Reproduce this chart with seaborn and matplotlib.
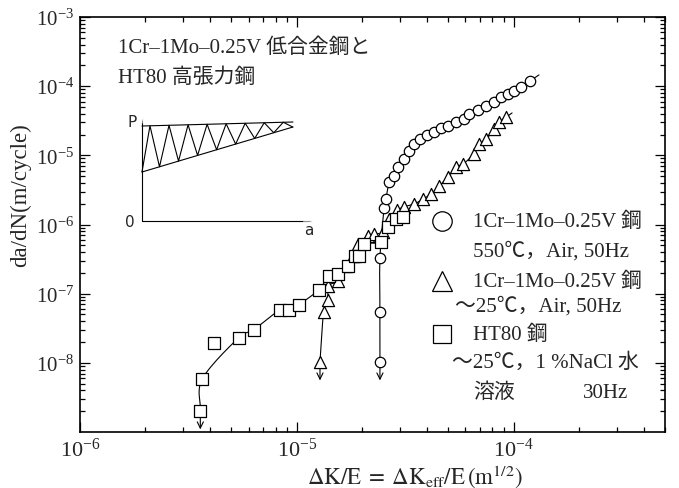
import numpy as np
import pandas as pd
import matplotlib
matplotlib.use("Agg")
import matplotlib.pyplot as plt
import seaborn as sns

# ---- data: crack growth rate da/dN (m/cycle) vs. normalised range dK/E (m^1/2) ----
# 1Cr-1Mo-0.25V steel, 550 C, air, 50 Hz  (circles)
hot_dk = [2.42e-5, 2.42e-5, 2.42e-5, 2.53e-5, 2.58e-5, 2.67e-5, 2.81e-5, 2.93e-5,
          3.13e-5, 3.30e-5, 3.48e-5, 3.71e-5, 4.00e-5, 4.31e-5, 4.64e-5, 5.00e-5,
          5.45e-5, 5.93e-5, 6.26e-5, 6.89e-5, 7.50e-5, 8.17e-5, 8.80e-5, 9.48e-5,
          1.01e-4, 1.08e-4, 1.19e-4]
hot_rate = [1.03e-8, 5.46e-8, 3.29e-7, 1.74e-6, 2.34e-6, 4.13e-6, 5.04e-6, 6.80e-6,
            8.87e-6, 1.16e-5, 1.46e-5, 1.73e-5, 1.97e-5, 2.18e-5, 2.49e-5, 2.66e-5,
            3.04e-5, 3.36e-5, 3.96e-5, 4.53e-5, 5.17e-5, 5.91e-5, 6.98e-5, 7.71e-5,
            8.52e-5, 9.74e-5, 1.19e-4]

# 1Cr-1Mo-0.25V steel, ~25 C, air, 50 Hz  (triangles)
room_dk = [1.28e-5, 1.33e-5, 1.39e-5, 1.40e-5, 1.55e-5, 1.69e-5, 1.82e-5, 1.92e-5,
           2.13e-5, 2.27e-5, 2.50e-5, 2.67e-5, 2.90e-5, 3.13e-5, 3.48e-5, 3.83e-5,
           4.17e-5, 4.54e-5, 5.00e-5, 5.45e-5, 5.87e-5, 6.55e-5, 6.96e-5, 7.50e-5,
           8.17e-5, 8.61e-5, 9.28e-5]
room_rate = [1.03e-8, 5.46e-8, 8.14e-8, 1.30e-7, 1.53e-7, 2.52e-7, 3.52e-7, 5.24e-7,
             6.84e-7, 7.31e-7, 7.82e-7, 1.21e-6, 1.60e-6, 1.80e-6, 1.98e-6, 2.34e-6,
             2.77e-6, 3.61e-6, 4.88e-6, 6.80e-6, 7.51e-6, 1.05e-5, 1.46e-5, 1.73e-5,
             2.41e-5, 3.04e-5, 3.59e-5]

# HT80 steel, ~25 C, 1 % NaCl solution, 30 Hz  (squares)
ht80_dk = [3.59e-6, 3.67e-6, 4.17e-6, 5.39e-6, 6.32e-6, 8.34e-6, 9.18e-6, 1.02e-5,
           1.26e-5, 1.41e-5, 1.55e-5, 1.72e-5, 1.86e-5, 1.94e-5, 2.04e-5, 2.45e-5,
           2.64e-5, 2.87e-5, 3.10e-5]
ht80_rate = [2.02e-9, 5.87e-9, 1.95e-8, 2.30e-8, 3.00e-8, 5.83e-8, 5.83e-8, 6.89e-8,
             1.13e-7, 1.81e-7, 1.93e-7, 2.52e-7, 3.52e-7, 3.52e-7, 5.24e-7, 5.61e-7,
             9.23e-7, 1.21e-6, 1.29e-6]
ht80_off_curve = [2]          # scattered point the trend line does not pass through

x_ticks = [1e-6, 1e-5, 1e-4]
y_ticks = [1e-8, 1e-7, 1e-6, 1e-5, 1e-4, 1e-3]

hot = pd.DataFrame({"dk": hot_dk, "rate": hot_rate})
room = pd.DataFrame({"dk": room_dk, "rate": room_rate})
ht80 = pd.DataFrame({"dk": ht80_dk, "rate": ht80_rate})

# ---- style ----
sns.set_style("ticks")
plt.rcParams["font.family"] = ["Liberation Serif", "Noto Sans CJK JP", "DejaVu Sans"]
plt.rcParams["mathtext.fontset"] = "stix"
TXT = ["Liberation Serif", "Noto Sans CJK JP", "DejaVu Sans"]


def smooth_curve(df, tail=0.0, aspect=0.32, n=14):
    """Catmull-Rom curve through the points in log-log space (optional short tail)."""
    lx = np.log10(df["dk"].to_numpy())
    ly = np.log10(df["rate"].to_numpy()) * aspect
    P = np.column_stack([lx, ly])
    if tail > 0:
        P = np.vstack([P, P[-1] + tail * (P[-1] - P[-2])])
    P = np.vstack([2 * P[0] - P[1], P, 2 * P[-1] - P[-2]])
    pieces = []
    t = np.linspace(0, 1, n, endpoint=False)[:, None]
    for i in range(1, len(P) - 2):
        p0, p1, p2, p3 = P[i - 1], P[i], P[i + 1], P[i + 2]
        pieces.append(0.5 * (2 * p1 + (-p0 + p2) * t
                             + (2 * p0 - 5 * p1 + 4 * p2 - p3) * t ** 2
                             + (-p0 + 3 * p1 - 3 * p2 + p3) * t ** 3))
    pieces.append(P[-2][None])
    C = np.vstack(pieces)
    return pd.DataFrame({"dk": 10 ** C[:, 0], "rate": 10 ** (C[:, 1] / aspect),
                         "order": np.arange(len(C))})


fig = plt.figure(figsize=(6.79, 4.89), dpi=100)
ax = fig.add_axes([0.1178, 0.1145, 0.8616, 0.8487])
ax.set_xscale("log")
ax.set_yscale("log")

line_kw = dict(color="black", lw=0.8, sort=False, estimator=None, legend=False, zorder=2)
sns.lineplot(data=smooth_curve(hot, tail=1.0), x="dk", y="rate", ax=ax, **line_kw)
sns.lineplot(data=smooth_curve(room, tail=0.8), x="dk", y="rate", ax=ax, **line_kw)
sns.lineplot(data=smooth_curve(ht80.drop(index=ht80_off_curve)), x="dk", y="rate",
             ax=ax, **line_kw)

# run-out arrows below the lowest point of each series
for df in (hot, room, ht80):
    x0, y0 = df["dk"].iloc[0], df["rate"].iloc[0]
    ax.annotate("", xy=(x0, y0 / 1.85), xytext=(x0, y0),
                arrowprops=dict(arrowstyle="->,head_length=0.45,head_width=0.22",
                                lw=0.8, color="black", shrinkA=0, shrinkB=0),
                zorder=2)

mk = dict(facecolor="white", edgecolor="black", linewidth=0.9, legend=False, zorder=3)
sns.scatterplot(data=hot, x="dk", y="rate", marker="o", s=56, ax=ax, **mk)
sns.scatterplot(data=room, x="dk", y="rate", marker="^", s=76, ax=ax, **mk)
sns.scatterplot(data=ht80, x="dk", y="rate", marker="s", s=64, ax=ax, **mk)

# ---- axes ----
ax.set_xlim(1e-6, 5e-4)
ax.set_ylim(1e-9, 1e-3)
ax.set_xticks(x_ticks)
ax.set_yticks(y_ticks)
ax.xaxis.set_minor_locator(matplotlib.ticker.LogLocator(base=10, subs=np.arange(2, 10)))
ax.yaxis.set_minor_locator(matplotlib.ticker.LogLocator(base=10, subs=np.arange(2, 10)))
ax.xaxis.set_minor_formatter(matplotlib.ticker.NullFormatter())
ax.yaxis.set_minor_formatter(matplotlib.ticker.NullFormatter())
ax.tick_params(which="both", direction="in", top=True, right=True, width=0.9, color="black")
ax.tick_params(which="major", length=7)
ax.tick_params(which="minor", length=3.5)
ax.tick_params(axis="x", labelsize=16, pad=4)
ax.tick_params(axis="y", labelsize=15, pad=4)
for sp in ax.spines.values():
    sp.set_linewidth(1.2)
    sp.set_color("black")

ax.set_xlabel(r"$\Delta\mathrm{K/E}\;=\;\Delta\mathrm{K}_{\mathrm{eff}}/\mathrm{E}\,(\mathrm{m}^{1/2})$",
              fontsize=16.5)
ax.xaxis.set_label_coords(0.573, -0.074)
ax.set_ylabel("da/dN(m/cycle)", fontsize=16.5, family=TXT)
ax.yaxis.set_label_coords(-0.084, 0.573)

# ---- heading ----
ax.text(0.065, 0.9277, "1Cr–1Mo–0.25V 低合金鋼と", transform=ax.transAxes,
        ha="left", va="center", fontsize=15, family=TXT)
ax.text(0.065, 0.8554, "HT80 高張力鋼", transform=ax.transAxes,
        ha="left", va="center", fontsize=15, family=TXT)

# ---- key ----
key_x = 0.6188
for sym, ky in (("o", 0.5084), ("^", 0.3639), ("s", 0.2361)):
    ax.plot([key_x], [ky], marker=sym, ms=14 if sym != "s" else 12.5, mfc="white",
            mec="black", mew=0.9, transform=ax.transAxes, clip_on=False, ls="none")
key_lines = [
    (0.6718, 0.5084, "1Cr–1Mo–0.25V 鋼"),
    (0.6718, 0.4361, "550℃，Air, 50Hz"),
    (0.6718, 0.3639, "1Cr–1Mo–0.25V 鋼"),
    (0.6410, 0.3036, "～25℃，Air, 50Hz"),
    (0.6718, 0.2361, "HT80 鋼"),
    (0.6359, 0.1687, "～25℃，1 %NaCl 水"),
    (0.6718, 0.0964, "溶液"),
    (0.8598, 0.0964, "30Hz"),
]
for kx, ky, s in key_lines:
    ax.text(kx, ky, s, transform=ax.transAxes, ha="left", va="center",
            fontsize=15, family=TXT)

# ---- schematic of the load history P vs crack length a ----
ins = fig.add_axes([0.2091, 0.546, 0.2504, 0.2045])
ins.set_axis_off()
ins.set_xlim(0, 1)
ins.set_ylim(0, 1)
ins.patch.set_alpha(0)
u_end = 0.888
upper = (0.95, 0.99)
lower = (0.49, 0.94)
ins.plot([0, u_end], upper, color="black", lw=0.8, clip_on=False)
ins.plot([0, u_end], lower, color="black", lw=0.8, clip_on=False)
n_cyc = 8
peaks = np.linspace(0.047, u_end - 0.057, n_cyc)
zz_u = [0.0]
zz_v = [lower[0]]
for pu in peaks:
    zz_u += [pu, pu + 0.056]
    zz_v += [np.interp(pu, [0, u_end], upper), np.interp(pu + 0.056, [0, u_end], lower)]
ins.plot(zz_u, zz_v, color="black", lw=0.8, clip_on=False)
# coordinate axes of the sketch
ins.plot([0, 1.0], [0, 0], color="black", lw=0.8, clip_on=False)
ins.plot([0, 0], [0, 1.03], color="black", lw=0.8, clip_on=False)
ins.annotate("", xy=(1.02, 0.0), xytext=(0.95, 0.0), annotation_clip=False,
             arrowprops=dict(arrowstyle="->,head_length=0.4,head_width=0.15", lw=0.8,
                             shrinkA=0, shrinkB=0))
ins.annotate("", xy=(0.0, 1.05), xytext=(0.0, 0.98), annotation_clip=False,
             arrowprops=dict(arrowstyle="->,head_length=0.3,head_width=0.12", lw=0.8,
                             shrinkA=0, shrinkB=0))
ins.text(-0.06, 1.0, "P", ha="center", va="center", fontsize=11, family="DejaVu Sans")
ins.text(-0.07, 0.0, "0", ha="center", va="center", fontsize=11, family="DejaVu Sans")
ins.text(0.98, -0.08, "a", ha="center", va="center", fontsize=11, family="DejaVu Sans")

fig.savefig("out.png", dpi=100)
